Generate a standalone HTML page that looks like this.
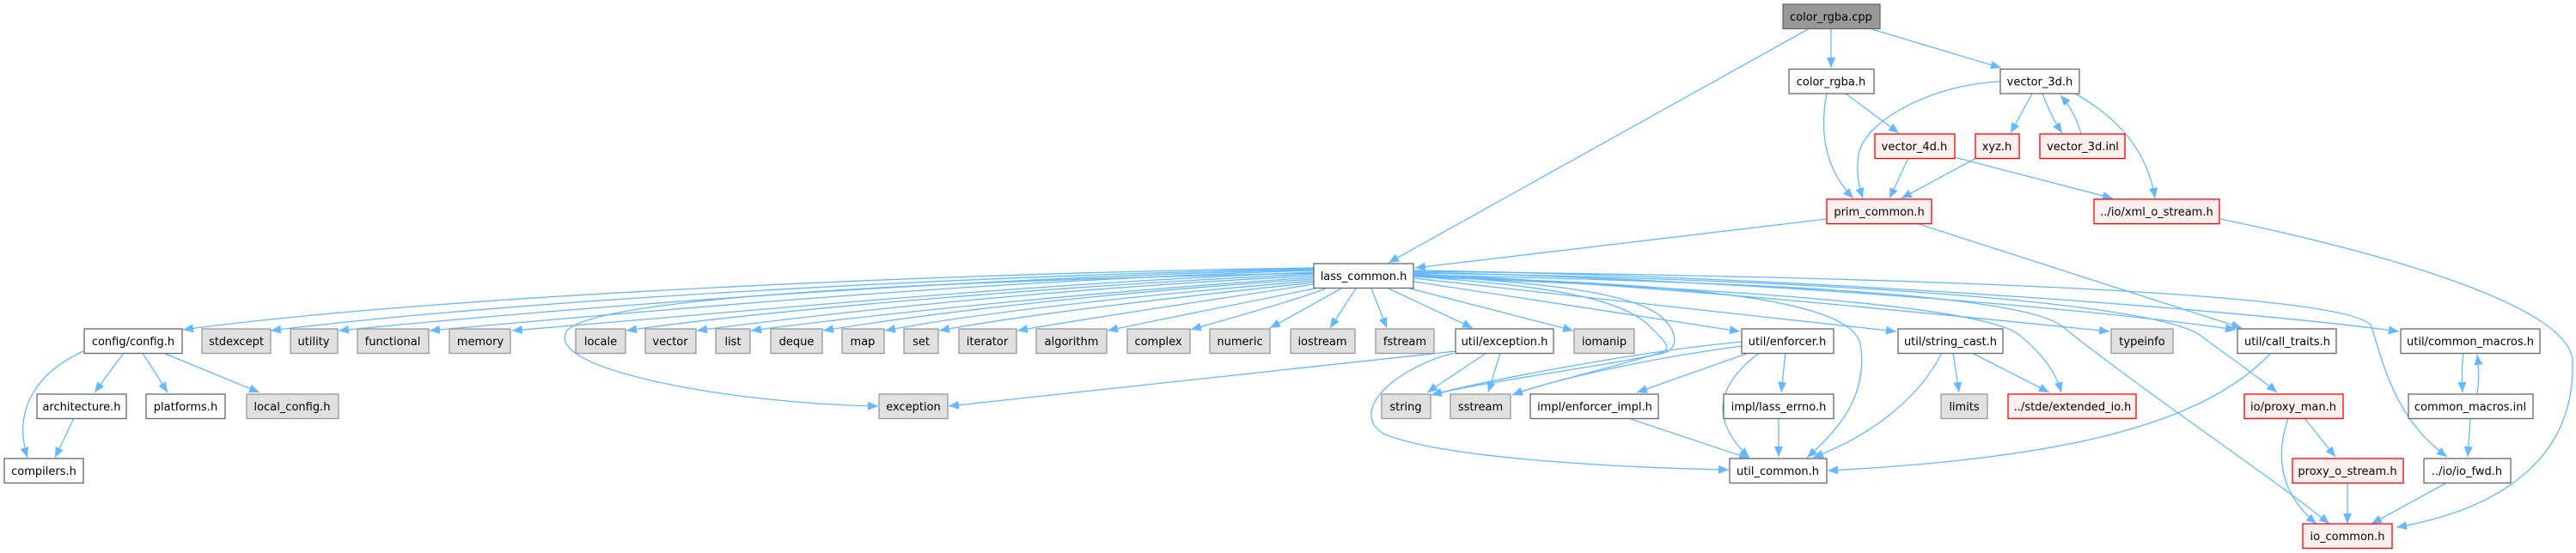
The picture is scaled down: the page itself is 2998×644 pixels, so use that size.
<!DOCTYPE html>
<html><head><meta charset="utf-8">
<style>
html,body{margin:0;padding:0;background:#fff;}
svg{display:block;}
text{font-family:"DejaVu Sans","Liberation Sans",sans-serif;font-size:13px;fill:#000;}
.e{fill:none;stroke:#63b8ff;stroke-width:1.3;marker-end:url(#a);}
.n{fill:#fff;stroke:#666;stroke-width:1.3;}
.g{fill:#e0e0e0;stroke:#999;stroke-width:1.3;}
.r{fill:#fff0f0;stroke:#f00;stroke-width:1.3;}
.k{fill:#999;stroke:#666;stroke-width:1.3;}
</style></head><body>
<svg width="2998" height="644" viewBox="0 0 2998 644" xmlns="http://www.w3.org/2000/svg">
<defs>
<marker id="a" markerUnits="userSpaceOnUse" markerWidth="14" markerHeight="12" refX="12" refY="5" orient="auto">
<path d="M0,0 L12,5 L0,10 Z" fill="#63b8ff"/>
</marker>
</defs>

<!-- edges -->
<g>
<!-- top -->
<path class="e" d="M2106,33 L1616,306"/>
<path class="e" d="M2131,33 L2131,79"/>
<path class="e" d="M2175,33 L2329,79"/>
<path class="e" d="M2148,109 L2210,155"/>
<path class="e" d="M2126,109 C2118,150 2122,195 2157,231"/>
<path class="e" d="M2328,95 C2250,98 2170,140 2163,180 C2160,200 2163,215 2168,231"/>
<path class="e" d="M2365,109 L2340,155"/>
<path class="e" d="M2377,109 C2383,125 2390,140 2400,155"/>
<path class="e" d="M2422,156 C2418,140 2410,125 2398,111"/>
<path class="e" d="M2415,109 C2470,140 2500,180 2508,231"/>
<path class="e" d="M2221,184 L2199,231"/>
<path class="e" d="M2274,183 L2459,231"/>
<path class="e" d="M2300,184 L2213,231"/>
<path class="e" d="M2126,255 L1647,312"/>
<path class="e" d="M2230,260 L2609,382"/>
<path class="e" d="M2584,255 C2800,300 2990,360 2994,420 C2998,540 2900,595 2789,614"/>

<!-- lass_common to left row5 -->
<path class="e" d="M1529,312 C1100,318 500,345 213,384"/>
<path class="e" d="M1529,313 C1100,322 600,350 315,385"/>
<path class="e" d="M1529,314 C1100,325 700,355 394,385"/>
<path class="e" d="M1529,315 C1150,327 800,358 500,385"/>
<path class="e" d="M1529,317 C1200,330 900,360 596,385"/>
<path class="e" d="M1529,319 C1250,332 900,360 729,385"/>
<path class="e" d="M1529,321 C1250,335 1000,360 811,385"/>
<path class="e" d="M1529,323 C1300,338 1050,362 874,385"/>
<path class="e" d="M1529,325 C1300,340 1100,362 958,385"/>
<path class="e" d="M1529,327 C1350,342 1150,362 1030,385"/>
<path class="e" d="M1529,329 C1380,345 1200,365 1093,385"/>
<path class="e" d="M1529,331 C1420,348 1300,365 1184,385"/>
<path class="e" d="M1535,335 C1450,352 1370,368 1289,385"/>
<path class="e" d="M1543,336 C1500,352 1440,368 1386,384"/>
<path class="e" d="M1561,336 L1478,382"/>
<path class="e" d="M1578,336 L1548,382"/>
<path class="e" d="M1596,336 L1614,382"/>
<path class="e" d="M1616,336 L1714,382"/>
<path class="e" d="M1641,336 L1831,385"/>
<!-- lass to exception (loop) -->
<path class="e" d="M1529,318 C1200,325 700,340 660,385 C630,430 850,470 1022,473"/>

<!-- lass to right -->
<path class="e" d="M1646,328 L2025,386"/>
<path class="e" d="M1646,324 C1800,340 2050,370 2207,386"/>
<path class="e" d="M1646,319 C1900,330 2200,360 2455,386"/>
<path class="e" d="M1646,317 C2000,325 2400,355 2602,384"/>
<path class="e" d="M1646,315 C2100,322 2600,360 2792,386"/>
<path class="e" d="M1646,321 C1900,330 2150,340 2165,400 C2175,460 2140,500 2103,533"/>
<path class="e" d="M1646,322 C1900,332 2300,350 2350,390 C2380,415 2393,435 2399,457"/>
<path class="e" d="M1646,320 C2000,328 2350,340 2400,380 C2500,460 2650,560 2711,610"/>
<path class="e" d="M1646,318 C2100,325 2500,350 2560,390 C2600,420 2630,440 2650,457"/>
<path class="e" d="M1646,316 C2200,322 2740,340 2760,380 C2775,430 2790,490 2848,532"/>
<!-- loop string/sstream -->
<path class="e" d="M1646,320 C1800,330 1900,340 1935,370 C1955,390 1950,405 1940,410 C1880,425 1720,445 1666,460"/>
<path class="e" d="M1646,322 C1790,332 1885,345 1920,380 C1940,400 1945,405 1935,410 C1870,430 1800,445 1760,460"/>

<!-- util/exception -->
<path class="e" d="M1694,409 L1104,473"/>
<path class="e" d="M1730,411 L1661,457"/>
<path class="e" d="M1746,411 L1732,457"/>
<path class="e" d="M1692,411 C1620,430 1570,480 1610,505 C1680,535 1900,545 2012,547"/>

<!-- util/enforcer -->
<path class="e" d="M2027,398 C1900,410 1720,445 1666,460"/>
<path class="e" d="M2027,403 C1900,420 1800,445 1760,460"/>
<path class="e" d="M2035,411 L1905,457"/>
<path class="e" d="M2078,411 L2073,457"/>
<path class="e" d="M2047,411 C2010,440 1980,480 2036,533"/>
<path class="e" d="M1895,487 L2036,534"/>
<path class="e" d="M2070,487 L2070,532"/>

<!-- string_cast -->
<path class="e" d="M2260,411 C2230,470 2170,510 2110,533"/>
<path class="e" d="M2273,411 L2280,457"/>
<path class="e" d="M2295,411 L2385,457"/>
<!-- call_traits -->
<path class="e" d="M2643,411 C2560,500 2380,535 2127,548"/>
<!-- macros -->
<path class="e" d="M2867,411 C2865,425 2865,440 2866,457"/>
<path class="e" d="M2883,458 C2885,445 2885,428 2883,413"/>
<path class="e" d="M2875,487 L2872,532"/>
<!-- proxy -->
<path class="e" d="M2682,487 L2718,532"/>
<path class="e" d="M2663,487 C2645,540 2660,580 2696,610"/>
<path class="e" d="M2732,563 L2732,610"/>
<path class="e" d="M2846,563 L2760,610"/>

<!-- config -->
<path class="e" d="M97,409 C40,435 15,480 32,533"/>
<path class="e" d="M144,411 L110,457"/>
<path class="e" d="M166,411 L195,457"/>
<path class="e" d="M190,411 L302,457"/>
<path class="e" d="M86,487 L64,533"/>
</g>

<!-- nodes -->
<g>
<rect class="k" x="2075" y="5" width="113" height="28.5"/><text x="2131" y="24" text-anchor="middle">color_rgba.cpp</text>
<rect class="n" x="2082" y="80.5" width="99" height="28.5"/><text x="2131" y="99.5" text-anchor="middle">color_rgba.h</text>
<rect class="n" x="2328" y="80.5" width="92" height="28.5"/><text x="2374" y="99.5" text-anchor="middle">vector_3d.h</text>
<rect class="r" x="2182" y="156" width="93" height="28.5"/><text x="2228" y="175" text-anchor="middle">vector_4d.h</text>
<rect class="r" x="2299" y="156" width="51" height="28.5"/><text x="2324" y="175" text-anchor="middle">xyz.h</text>
<rect class="r" x="2374" y="156" width="99" height="28.5"/><text x="2424" y="175" text-anchor="middle">vector_3d.inl</text>
<rect class="r" x="2126" y="232" width="122" height="28.5"/><text x="2187" y="251" text-anchor="middle">prim_common.h</text>
<rect class="r" x="2437" y="232" width="146" height="28.5"/><text x="2510" y="251" text-anchor="middle">../io/xml_o_stream.h</text>
<rect class="n" x="1529" y="307" width="116" height="28.5"/><text x="1587" y="326" text-anchor="middle">lass_common.h</text>

<rect class="n" x="98" y="383" width="114" height="28.5"/><text x="155" y="402" text-anchor="middle">config/config.h</text>
<rect class="g" x="235" y="383" width="80" height="28.5"/><text x="275" y="402" text-anchor="middle">stdexcept</text>
<rect class="g" x="338" y="383" width="55" height="28.5"/><text x="365" y="402" text-anchor="middle">utility</text>
<rect class="g" x="416" y="383" width="83" height="28.5"/><text x="457" y="402" text-anchor="middle">functional</text>
<rect class="g" x="523" y="383" width="71" height="28.5"/><text x="559" y="402" text-anchor="middle">memory</text>
<rect class="g" x="670" y="383" width="58" height="28.5"/><text x="699" y="402" text-anchor="middle">locale</text>
<rect class="g" x="751" y="383" width="59" height="28.5"/><text x="780" y="402" text-anchor="middle">vector</text>
<rect class="g" x="833" y="383" width="40" height="28.5"/><text x="853" y="402" text-anchor="middle">list</text>
<rect class="g" x="897" y="383" width="60" height="28.5"/><text x="927" y="402" text-anchor="middle">deque</text>
<rect class="g" x="980" y="383" width="49" height="28.5"/><text x="1004" y="402" text-anchor="middle">map</text>
<rect class="g" x="1052" y="383" width="40" height="28.5"/><text x="1072" y="402" text-anchor="middle">set</text>
<rect class="g" x="1116" y="383" width="67" height="28.5"/><text x="1149" y="402" text-anchor="middle">iterator</text>
<rect class="g" x="1206" y="383" width="82" height="28.5"/><text x="1247" y="402" text-anchor="middle">algorithm</text>
<rect class="g" x="1312" y="383" width="73" height="28.5"/><text x="1348" y="402" text-anchor="middle">complex</text>
<rect class="g" x="1408" y="383" width="70" height="28.5"/><text x="1443" y="402" text-anchor="middle">numeric</text>
<rect class="g" x="1502" y="383" width="75" height="28.5"/><text x="1539" y="402" text-anchor="middle">iostream</text>
<rect class="g" x="1601" y="383" width="68" height="28.5"/><text x="1635" y="402" text-anchor="middle">fstream</text>
<rect class="n" x="1694" y="383" width="114" height="28.5"/><text x="1751" y="402" text-anchor="middle">util/exception.h</text>
<rect class="g" x="1832" y="383" width="70" height="28.5"/><text x="1867" y="402" text-anchor="middle">iomanip</text>
<rect class="n" x="2027" y="383" width="107" height="28.5"/><text x="2080" y="402" text-anchor="middle">util/enforcer.h</text>
<rect class="n" x="2209" y="383" width="122" height="28.5"/><text x="2270" y="402" text-anchor="middle">util/string_cast.h</text>
<rect class="g" x="2457" y="383" width="72" height="28.5"/><text x="2493" y="402" text-anchor="middle">typeinfo</text>
<rect class="n" x="2604" y="383" width="115" height="28.5"/><text x="2662" y="402" text-anchor="middle">util/call_traits.h</text>
<rect class="n" x="2794" y="383" width="162" height="28.5"/><text x="2875" y="402" text-anchor="middle">util/common_macros.h</text>

<rect class="n" x="43" y="459" width="104" height="28.5"/><text x="95" y="478" text-anchor="middle">architecture.h</text>
<rect class="n" x="170" y="459" width="92" height="28.5"/><text x="216" y="478" text-anchor="middle">platforms.h</text>
<rect class="g" x="287" y="459" width="107" height="28.5"/><text x="340" y="478" text-anchor="middle">local_config.h</text>
<rect class="g" x="1023" y="459" width="80" height="28.5"/><text x="1063" y="478" text-anchor="middle">exception</text>
<rect class="g" x="1608" y="459" width="57" height="28.5"/><text x="1636" y="478" text-anchor="middle">string</text>
<rect class="g" x="1688" y="459" width="70" height="28.5"/><text x="1723" y="478" text-anchor="middle">sstream</text>
<rect class="n" x="1781" y="459" width="149" height="28.5"/><text x="1856" y="478" text-anchor="middle">impl/enforcer_impl.h</text>
<rect class="n" x="2006" y="459" width="128" height="28.5"/><text x="2070" y="478" text-anchor="middle">impl/lass_errno.h</text>
<rect class="g" x="2259" y="459" width="54" height="28.5"/><text x="2286" y="478" text-anchor="middle">limits</text>
<rect class="r" x="2337" y="459" width="149" height="28.5"/><text x="2412" y="478" text-anchor="middle">../stde/extended_io.h</text>
<rect class="r" x="2612" y="459" width="115" height="28.5"/><text x="2669" y="478" text-anchor="middle">io/proxy_man.h</text>
<rect class="n" x="2803" y="459" width="145" height="28.5"/><text x="2875" y="478" text-anchor="middle">common_macros.inl</text>

<rect class="n" x="5" y="534" width="92" height="28.5"/><text x="51" y="553" text-anchor="middle">compilers.h</text>
<rect class="n" x="2013" y="534" width="113" height="28.5"/><text x="2069" y="553" text-anchor="middle">util_common.h</text>
<rect class="r" x="2668" y="534" width="129" height="28.5"/><text x="2732" y="553" text-anchor="middle">proxy_o_stream.h</text>
<rect class="n" x="2821" y="534" width="101" height="28.5"/><text x="2871" y="553" text-anchor="middle">../io/io_fwd.h</text>

<rect class="r" x="2680" y="610" width="104" height="28.5"/><text x="2732" y="629" text-anchor="middle">io_common.h</text>
</g>
</svg>
</body></html>
